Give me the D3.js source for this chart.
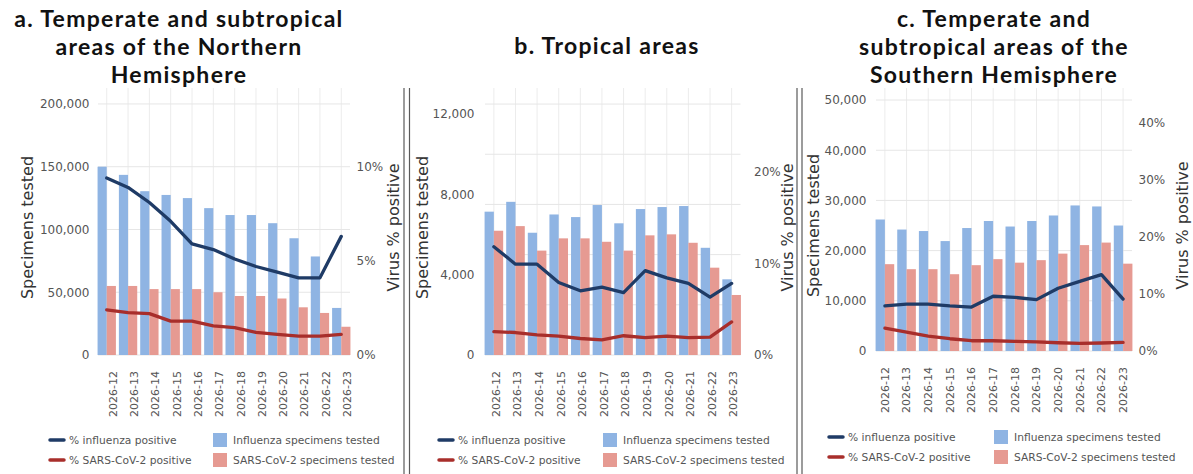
<!DOCTYPE html>
<html>
<head>
<meta charset="utf-8">
<script src="https://cdn.jsdelivr.net/npm/d3@7"></script>
<style>
  body { margin: 0; background: #fff; }
  svg { display: block; font-family: "DejaVu Sans", sans-serif; }
</style>
</head>
<body>
<svg id="chart" width="1193" height="474"></svg>
<script>
// Influenza / SARS-CoV-2 testing by transmission zone -- three panels

var weeks = ["2026-12", "2026-13", "2026-14", "2026-15", "2026-16", "2026-17",
             "2026-18", "2026-19", "2026-20", "2026-21", "2026-22", "2026-23"];

// a. temperate / subtropical, northern hemisphere
var titleA = ["a. Temperate and subtropical", "areas of the Northern", "Hemisphere"];
var fluTestedA = [150000, 143500, 130500, 127500, 125000, 117000, 111500, 111500, 105000, 93000, 78500, 37500];
var covTestedA = [55000, 55000, 52500, 52500, 52500, 50000, 47000, 47000, 45000, 38000, 33500, 22500];
var fluPosA = [9.4, 8.9, 8.1, 7.1, 5.9, 5.6, 5.1, 4.7, 4.4, 4.1, 4.1, 6.3];
var covPosA = [2.4, 2.25, 2.2, 1.8, 1.8, 1.55, 1.45, 1.2, 1.1, 1.0, 1.0, 1.1];
var leftTicksA = [0, 50000, 100000, 150000, 200000];
var rightTicksA = [0, 5, 10];
var gridA = [0, 50000, 100000, 150000, 200000];

// b. tropical
var titleB = ["b. Tropical areas"];
var fluTestedB = [7140, 7630, 6090, 7000, 6870, 7470, 6560, 7270, 7370, 7420, 5340, 3770];
var covTestedB = [6190, 6420, 5200, 5810, 5810, 5640, 5200, 5960, 6010, 5590, 4350, 2990];
var fluPosB = [11.8, 9.9, 9.9, 7.9, 7.0, 7.4, 6.8, 9.2, 8.4, 7.8, 6.3, 7.8];
var covPosB = [2.55, 2.45, 2.2, 2.05, 1.8, 1.65, 2.1, 1.9, 2.05, 1.9, 1.95, 3.6];
var leftTicksB = [0, 4000, 8000, 12000];
var rightTicksB = [0, 10, 20];
var gridB = [0, 2500, 5000, 7500, 10000, 12500];

// c. temperate / subtropical, southern hemisphere
var titleC = ["c. Temperate and", "subtropical areas of the", "Southern Hemisphere"];
var fluTestedC = [26200, 24200, 23900, 21900, 24500, 25900, 24800, 25900, 27000, 29000, 28800, 25000];
var covTestedC = [17300, 16300, 16300, 15300, 17100, 18300, 17600, 18100, 19400, 21100, 21600, 17400];
var fluPosC = [7.9, 8.2, 8.2, 7.9, 7.7, 9.6, 9.4, 9.0, 11.0, 12.2, 13.4, 9.1];
var covPosC = [4.0, 3.3, 2.6, 2.15, 1.8, 1.8, 1.7, 1.6, 1.45, 1.35, 1.4, 1.5];
var leftTicksC = [0, 10000, 20000, 30000, 40000, 50000];
var rightTicksC = [0, 10, 20, 30, 40];
var gridC = [0, 10000, 20000, 30000, 40000, 50000];

var legendLines = ["% influenza positive", "% SARS-CoV-2 positive"];
var legendBars = ["Influenza specimens tested", "SARS-CoV-2 specimens tested"];

var colors = {
  fluBar: "#8fb4e3",
  covBar: "#e69a92",
  fluLine: "#1f3b66",
  covLine: "#a82e2b"
};

// layout of each panel (pixels)
var panels = [
  { title: titleA, flu: fluTestedA, cov: covTestedA, fluPos: fluPosA, covPos: covPosA,
    leftTicks: leftTicksA, rightTicks: rightTicksA, grid: gridA,
    yMax: 212700, rMax: 14.18,
    x0: 96.5, x1: 351.5, top: 88, bottom: 355,
    titleX: 179, titleY: 26.5, titleStep: 28,
    leftTitleX: 27, rightTitleX: 393, rightPad: 5, leftPad: 7,
    labelTop: 371, labelShift: 6,
    legendX: 49, legendSqX: 213, legendY: 440 },
  { title: titleB, flu: fluTestedB, cov: covTestedB, fluPos: fluPosB, covPos: covPosB,
    leftTicks: leftTicksB, rightTicks: rightTicksB, grid: gridB,
    yMax: 13300, rMax: 29.1,
    x0: 483.5, x1: 742, top: 88, bottom: 355,
    titleX: 607, titleY: 53.5, titleStep: 28,
    leftTitleX: 422, rightTitleX: 787, rightPad: 12, leftPad: 9,
    labelTop: 371, labelShift: 2,
    legendX: 438, legendSqX: 603, legendY: 440 },
  { title: titleC, flu: fluTestedC, cov: covTestedC, fluPos: fluPosC, covPos: covPosC,
    leftTicks: leftTicksC, rightTicks: rightTicksC, grid: gridC,
    yMax: 52400, rMax: 46.1,
    x0: 874.5, x1: 1133.5, top: 88, bottom: 351,
    titleX: 994, titleY: 27, titleStep: 28.2,
    leftTitleX: 813, rightTitleX: 1182, rightPad: 5, leftPad: 8,
    labelTop: 367, labelShift: 0,
    legendX: 828, legendSqX: 994, legendY: 437 }
];

var svg = d3.select("#chart");

///////////////////////////////////////////////////////////////////////////////
// Panel dividers (double rules)

[404, 409.5, 797, 802].forEach(function (x) {
  svg.append("line")
    .attr("x1", x).attr("x2", x)
    .attr("y1", 88).attr("y2", 474)
    .attr("stroke", "#5a5a5a")
    .attr("stroke-width", 1.2);
});

///////////////////////////////////////////////////////////////////////////////
// One panel

var drawPanel = function (p) {
  var g = svg.append("g");

  var x = d3.scaleBand()
    .domain(weeks)
    .range([p.x0, p.x1])
    .paddingInner(0.14)
    .paddingOuter(0.05);

  var sub = d3.scaleBand()
    .domain(["flu", "cov"])
    .range([0, x.bandwidth()]);

  var y = d3.scaleLinear().domain([0, p.yMax]).range([p.bottom, p.top]);
  var r = d3.scaleLinear().domain([0, p.rMax]).range([p.bottom, p.top]);

  var mid = function (d) { return x(d) + x.bandwidth() / 2; };

  // grid
  g.append("g").selectAll("line")
    .data(weeks)
    .enter().append("line")
    .attr("x1", mid).attr("x2", mid)
    .attr("y1", p.top).attr("y2", p.bottom)
    .attr("stroke", "#ececec");

  g.append("g").selectAll("line")
    .data(p.grid)
    .enter().append("line")
    .attr("x1", p.x0 + 1.5).attr("x2", p.x1 - 1.5)
    .attr("y1", function (d) { return y(d); })
    .attr("y2", function (d) { return y(d); })
    .attr("stroke", "#e6e6e6");

  // bars
  var bars = g.append("g");
  bars.selectAll("rect.flu")
    .data(p.flu)
    .enter().append("rect")
    .attr("class", "flu")
    .attr("x", function (d, i) { return x(weeks[i]) + sub("flu"); })
    .attr("width", sub.bandwidth())
    .attr("y", function (d) { return y(d); })
    .attr("height", function (d) { return p.bottom - y(d); })
    .attr("fill", colors.fluBar);

  bars.selectAll("rect.cov")
    .data(p.cov)
    .enter().append("rect")
    .attr("class", "cov")
    .attr("x", function (d, i) { return x(weeks[i]) + sub("cov"); })
    .attr("width", sub.bandwidth())
    .attr("y", function (d) { return y(d); })
    .attr("height", function (d) { return p.bottom - y(d); })
    .attr("fill", colors.covBar);

  // % positive lines
  var line = d3.line()
    .x(function (d, i) { return mid(weeks[i]); })
    .y(function (d) { return r(d); });

  g.append("path")
    .datum(p.fluPos)
    .attr("d", line)
    .attr("fill", "none")
    .attr("stroke", colors.fluLine)
    .attr("stroke-width", 3.3)
    .attr("stroke-linejoin", "round")
    .attr("stroke-linecap", "round");

  g.append("path")
    .datum(p.covPos)
    .attr("d", line)
    .attr("fill", "none")
    .attr("stroke", colors.covLine)
    .attr("stroke-width", 3.3)
    .attr("stroke-linejoin", "round")
    .attr("stroke-linecap", "round");

  // axes
  var left = g.append("g")
    .attr("transform", "translate(" + p.x0 + ",0)")
    .call(d3.axisLeft(y).tickValues(p.leftTicks).tickSize(0)
      .tickPadding(p.leftPad).tickFormat(d3.format(",")));

  var right = g.append("g")
    .attr("transform", "translate(" + p.x1 + ",0)")
    .call(d3.axisRight(r).tickValues(p.rightTicks).tickSize(0)
      .tickPadding(p.rightPad).tickFormat(function (d) { return d + "%"; }));

  var bottom = g.append("g")
    .attr("transform", "translate(0," + p.labelTop + ")")
    .call(d3.axisBottom(x).tickSize(0));

  [left, right, bottom].forEach(function (a) {
    a.select(".domain").remove();
    a.attr("font-family", null).attr("font-size", null);
    a.selectAll("text").attr("fill", "#555").style("font-size", "12px");
  });

  bottom.selectAll("text")
    .style("font-size", "11px")
    .attr("transform", "rotate(-90)")
    .attr("text-anchor", "end")
    .attr("x", 0)
    .attr("y", p.labelShift)
    .attr("dy", "0.35em");

  // axis titles
  g.append("text")
    .attr("transform", "translate(" + p.leftTitleX + "," + ((p.top + p.bottom) / 2 + 6) + ") rotate(-90)")
    .attr("text-anchor", "middle")
    .attr("dy", "0.35em")
    .attr("fill", "#333")
    .style("font-size", "16px")
    .text("Specimens tested");

  g.append("text")
    .attr("transform", "translate(" + p.rightTitleX + "," + ((p.top + p.bottom) / 2 + 6) + ") rotate(-90)")
    .attr("text-anchor", "middle")
    .attr("dy", "0.35em")
    .attr("fill", "#333")
    .style("font-size", "16px")
    .text("Virus % positive");

  // panel title
  g.append("g").selectAll("text")
    .data(p.title)
    .enter().append("text")
    .attr("x", p.titleX)
    .attr("y", function (d, i) { return p.titleY + i * p.titleStep; })
    .attr("text-anchor", "middle")
    .attr("fill", "#111")
    .style("font-family", "Lato, sans-serif")
    .style("font-weight", "bold")
    .style("font-size", "23px")
    .style("letter-spacing", "1.3px")
    .text(function (d) { return d; });

  // legend
  var lg = g.append("g").style("font-size", "10.7px").attr("fill", "#555");
  var lineColors = [colors.fluLine, colors.covLine];
  var barColors = [colors.fluBar, colors.covBar];

  legendLines.forEach(function (label, i) {
    var yy = p.legendY + i * 20;
    lg.append("line")
      .attr("x1", p.legendX + 1).attr("x2", p.legendX + 15)
      .attr("y1", yy).attr("y2", yy)
      .attr("stroke", lineColors[i])
      .attr("stroke-width", 3.5)
      .attr("stroke-linecap", "round");
    lg.append("text")
      .attr("x", p.legendX + 20)
      .attr("y", yy)
      .attr("dy", "0.35em")
      .text(label);
  });

  legendBars.forEach(function (label, i) {
    var yy = p.legendY + i * 20;
    lg.append("rect")
      .attr("x", p.legendSqX).attr("y", yy - 7)
      .attr("width", 14).attr("height", 14)
      .attr("fill", barColors[i]);
    lg.append("text")
      .attr("x", p.legendSqX + 20)
      .attr("y", yy)
      .attr("dy", "0.35em")
      .text(label);
  });
};

panels.forEach(drawPanel);
</script>
</body>
</html>
